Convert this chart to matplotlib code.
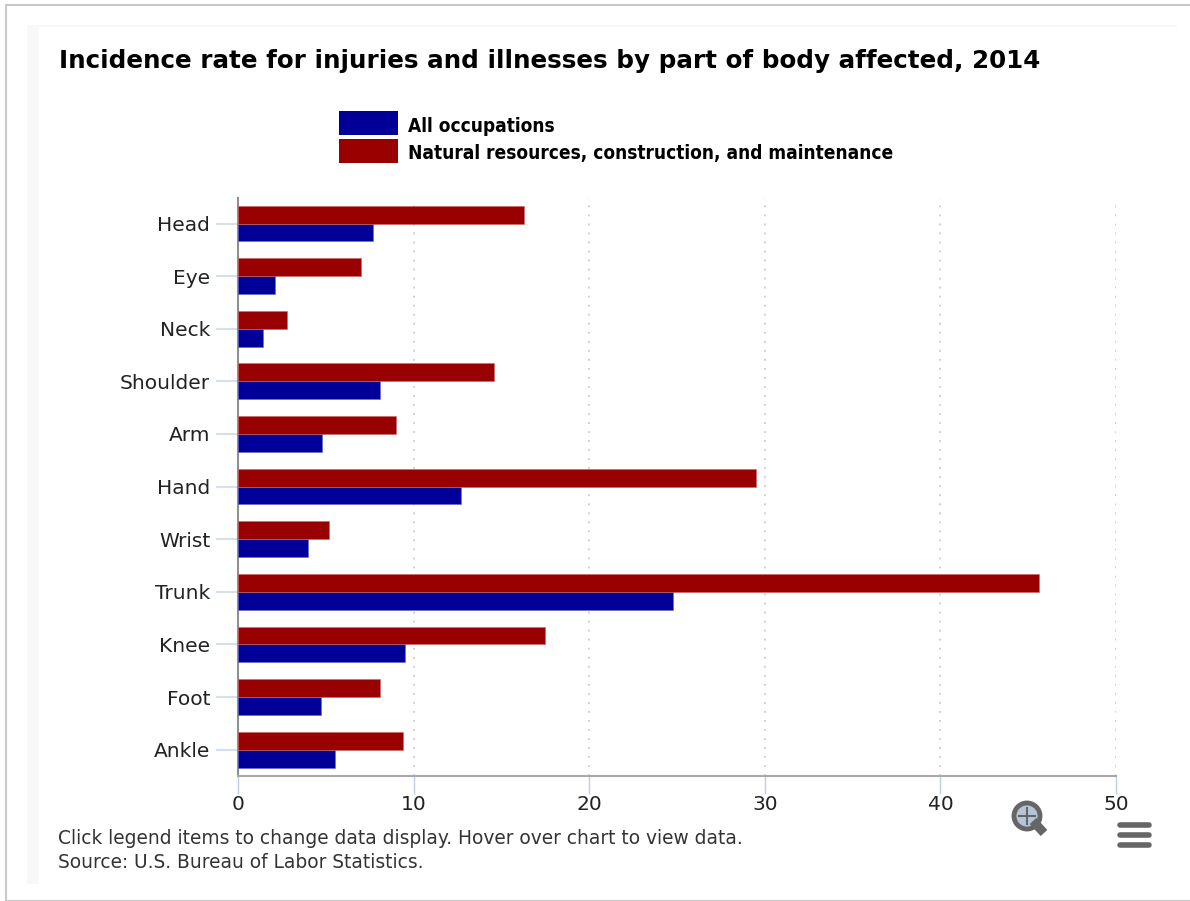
import numpy as np
import matplotlib
matplotlib.use("Agg")
import matplotlib.pyplot as plt
from matplotlib.patches import Rectangle, Circle
from matplotlib.lines import Line2D

# Values
parts = ['Head', 'Eye', 'Neck', 'Shoulder', 'Arm', 'Hand', 'Wrist', 'Trunk', 'Knee', 'Foot', 'Ankle']
all_occupations = [7.7, 2.1, 1.4, 8.1, 4.8, 12.7, 4.0, 24.8, 9.5, 4.7, 5.5]
natural_resources = [16.3, 7.0, 2.8, 14.6, 9.0, 29.5, 5.2, 45.6, 17.5, 8.1, 9.4]
x_ticks = [0, 10, 20, 30, 40, 50]

title = 'Incidence rate for injuries and illnesses by part of body affected, 2014'
series_names = ['All occupations', 'Natural resources, construction, and maintenance']
notes = ['Click legend items to change data display. Hover over chart to view data.',
         'Source: U.S. Bureau of Labor Statistics.']

BLUE = '#000099'
RED = '#990000'
W, H = 1190, 901


def fx(px):
    return px / W


def fy(py):
    return 1 - py / H


fig = plt.figure(figsize=(W / 100, H / 100), dpi=100, facecolor='white')

# page frame and faint panel behind the chart (kept under the axes)
fig.add_artist(Rectangle((fx(6), 0), fx(1190), fy(5), transform=fig.transFigure,
                         facecolor='white', edgecolor='#c8c8c8', linewidth=1.5, zorder=-3))
fig.add_artist(Rectangle((fx(27), fy(884)), fx(12), fy(27) - fy(884), transform=fig.transFigure,
                         facecolor='#f8f8f8', edgecolor='none', zorder=-2))
fig.add_artist(Rectangle((fx(27), fy(27)), fx(1150), fy(25) - fy(27), transform=fig.transFigure,
                         facecolor='#f8f8f8', edgecolor='none', zorder=-2))

# 1. Bars
ax = fig.add_axes([fx(238), fy(776), fx(1116 - 238), fy(198) - fy(776)])
ax.patch.set_alpha(0)
y = np.arange(len(parts))
bar_h = 0.34
ax.barh(y + bar_h / 2, all_occupations, height=bar_h, color=BLUE, edgecolor='#6666cc', linewidth=0.4, zorder=3)
ax.barh(y - bar_h / 2, natural_resources, height=bar_h, color=RED, edgecolor='#cc6666', linewidth=0.4, zorder=3)
ax.set_xlim(0, 50)
ax.set_ylim(10.5, -0.485)

# 2. Axes styling
ax.set_xticks(x_ticks)
ax.set_xticklabels(x_ticks, fontsize=14.5, color='#222222')
ax.set_yticks(y)
ax.set_yticklabels(parts, fontsize=14.5, color='#222222')
ax.tick_params(axis='x', length=13, width=1, color='#c0d0e0', pad=1)
ax.tick_params(axis='y', length=16, width=1.5, color='#d5e0ee', pad=4)
ax.grid(axis='x', color='#cccccc', linestyle=(0, (1, 4)), linewidth=1.3, zorder=0)
ax.spines['top'].set_visible(False)
ax.spines['right'].set_visible(False)
ax.spines['left'].set_color('#909090')
ax.spines['bottom'].set_color('#a8a8a8')
ax.spines['left'].set_linewidth(1.5)
ax.spines['bottom'].set_linewidth(1.5)

# 3. Title, legend, notes
fig.text(fx(59), fy(61), title, fontsize=17.75, fontweight='bold', color='black', va='center', ha='left')
for name, color, py in zip(series_names, [BLUE, RED], [123, 151]):
    fig.add_artist(Rectangle((fx(339), fy(py + 12)), fx(59), fy(py - 12) - fy(py + 12),
                             transform=fig.transFigure, facecolor=color, edgecolor='none'))
    fig.text(fx(408), fy(py + 3), name, fontsize=13.65, fontweight='bold', stretch='condensed',
             color='black', va='center', ha='left')
for note, py in zip(notes, [839, 863]):
    fig.text(fx(58), fy(py), note, fontsize=13.4, color='#333333', va='center', ha='left')

# 4. Zoom and menu icons
fig.add_artist(Line2D([fx(1033), fx(1044)], [fy(821), fy(833)], transform=fig.transFigure,
                      color='#666666', linewidth=6.5, solid_capstyle='butt'))
fig.add_artist(Circle((1027, H - 816), 13, transform=None, facecolor='#b5c5d8', edgecolor='#666666', linewidth=3.5))
fig.add_artist(Line2D([fx(1019), fx(1035)], [fy(816), fy(816)], transform=fig.transFigure, color='#666666', linewidth=1.5))
fig.add_artist(Line2D([fx(1027), fx(1027)], [fy(808), fy(824)], transform=fig.transFigure, color='#666666', linewidth=1.5))
for py in [825, 835, 845]:
    fig.add_artist(Line2D([fx(1120), fx(1149)], [fy(py), fy(py)], transform=fig.transFigure,
                          color='#666666', linewidth=4, solid_capstyle='round'))

fig.savefig('out.png', dpi=100, facecolor='white')
